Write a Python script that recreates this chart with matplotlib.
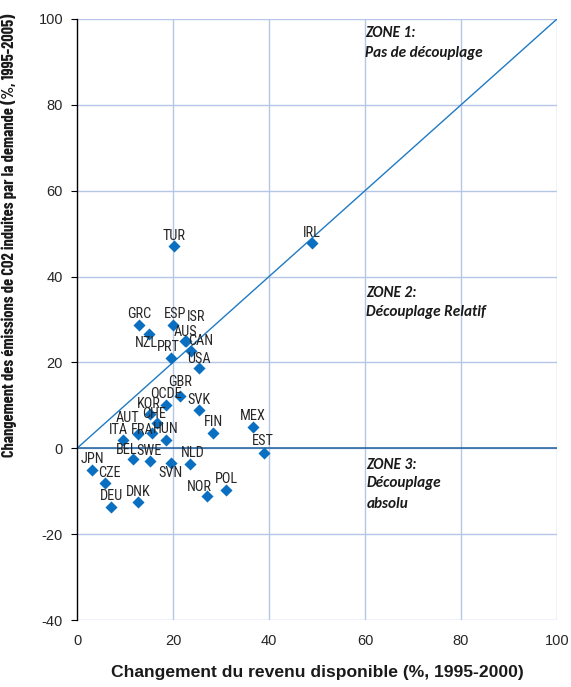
import matplotlib
matplotlib.use("Agg")
import matplotlib.pyplot as plt

plt.rcParams["axes.unicode_minus"] = False

countries = ["TUR", "IRL", "GRC", "ESP", "ISR", "AUS", "CAN", "NZL", "PRT", "USA",
             "GBR", "OCDE", "SVK", "KOR", "CHE", "AUT", "ITA", "FRA", "HUN", "MEX",
             "FIN", "EST", "BEL", "SWE", "NLD", "SVN", "JPN", "CZE", "DEU", "DNK",
             "NOR", "POL"]
income = [20.2, 49.0, 12.9, 20.1, 22.7, 22.6, 23.7, 15.1, 19.5, 25.5,
          21.4, 18.5, 25.5, 15.2, 16.6, 12.8, 9.6, 15.6, 18.5, 36.6,
          28.4, 39.0, 11.7, 15.2, 23.5, 19.5, 3.2, 5.8, 7.1, 12.8,
          27.0, 31.1]
co2 = [47.1, 47.8, 28.7, 28.7, 25.1, 24.9, 22.7, 26.7, 21.1, 18.6,
       12.2, 10.0, 9.0, 8.1, 5.8, 3.4, 1.9, 3.6, 1.9, 4.9,
       3.6, -1.0, -2.6, -3.0, -3.6, -3.4, -5.1, -8.1, -13.7, -12.4,
       -11.2, -9.8]

# label offsets in points (styling only)
label_off = {"TUR": (0, 7), "IRL": (0, 7), "GRC": (0, 8), "ESP": (1, 8), "ISR": (7, 17),
             "AUS": (0, 7), "CAN": (7, 7), "NZL": (-2, -7), "PRT": (-2, 8), "USA": (0, 7),
             "GBR": (0, 10), "OCDE": (0, 8), "SVK": (0, 7), "KOR": (-1, 7), "CHE": (-2, 7),
             "AUT": (-8, 11), "ITA": (-3, 7), "FRA": (-7, 2), "HUN": (0, 8), "MEX": (0, 8),
             "FIN": (0, 8), "EST": (-1, 8), "BEL": (-5, 7), "SWE": (-1, 7), "NLD": (2, 8),
             "SVN": (0, -7), "JPN": (0, 8), "CZE": (3, 7), "DEU": (0, 8), "DNK": (0, 7),
             "NOR": (-5, 7), "POL": (0, 8)}

xticks = [0, 20, 40, 60, 80, 100]
yticks = [-40, -20, 0, 20, 40, 60, 80, 100]

W, H = 571, 687
fig = plt.figure(figsize=(W / 100, H / 100), dpi=100)
ax = fig.add_axes([77 / W, 1 - 620 / H, 480 / W, 601 / H])
ax.set_xlim(0, 100)
ax.set_ylim(-40, 100)

grid_c = "#b4c7e7"
for x in xticks[1:]:
    ax.axvline(x, color=grid_c, lw=1, zorder=0)
for y in yticks:
    ax.axhline(y, color=grid_c, lw=1, zorder=0)

ax.axhline(0, color="#1f5f9e", lw=1.1, zorder=1)
ax.plot([0, 100], [0, 100], color="#1f7ac4", lw=1.0, zorder=2)
ax.scatter(income, co2, marker="D", s=38, color="#0a6fc0", zorder=3, linewidths=0)

fam = "Liberation Sans"
narrow = ["Roboto Condensed", "DejaVu Sans"]
xnarrow = ["Barlow Condensed", "Roboto Condensed", "DejaVu Sans"]
for c, x, y in zip(countries, income, co2):
    dx, dy = label_off[c]
    ax.annotate(c, (x, y), xytext=(dx, dy), textcoords="offset points",
                ha="center", va="center", fontsize=10.3, family=narrow,
                color="#262626", zorder=4)

for s in ["top", "right", "bottom"]:
    ax.spines[s].set_visible(False)
ax.spines["left"].set_color("black")
ax.spines["left"].set_linewidth(1)

ax.set_xticks(xticks)
ax.set_yticks(yticks)
ax.tick_params(axis="x", length=0, pad=10, labelsize=10.5, labelcolor="#262626")
ax.tick_params(axis="y", length=4, direction="out", pad=6, labelsize=10.5, labelcolor="#262626")
for t in ax.get_xticklabels() + ax.get_yticklabels():
    t.set_family(fam)

ax.set_xlabel("Changement du revenu disponible (%, 1995-2000)", fontsize=12.6,
              fontweight="bold", family=fam, color="#1a1a1a", labelpad=12)
ylab = ax.set_ylabel("Changement des émissions de CO2 induites par la demande (%, 1995-2005)",
                     fontsize=12, fontweight="bold", family=xnarrow, color="#1a1a1a")
ax.yaxis.set_label_coords(-(77 - 17) / 480, (620 - 235) / 601)

# fit y label length to the reference (about 444 px)
r = fig.canvas.get_renderer()
h = ylab.get_window_extent(r).height
ylab.set_fontsize(12 * 444 / h)

zfam = ["Carlito", "DejaVu Sans"]
zkw = dict(fontsize=11, fontweight="bold", fontstyle="italic", family=zfam,
           color="#1a1a1a", ha="left", va="center")
ax.text(60, 96.7, "ZONE 1:", **zkw)
ax.text(60, 92.0, "Pas de découplage", **zkw)
ax.text(60.3, 36.2, "ZONE 2:", **zkw)
ax.text(60.3, 31.8, "Découplage Relatif", **zkw)
ax.text(60.3, -3.8, "ZONE 3:", **zkw)
ax.text(60.3, -8.2, "Découplage", **zkw)
ax.text(60.3, -12.9, "absolu", **zkw)

fig.savefig("out.png", dpi=100)
